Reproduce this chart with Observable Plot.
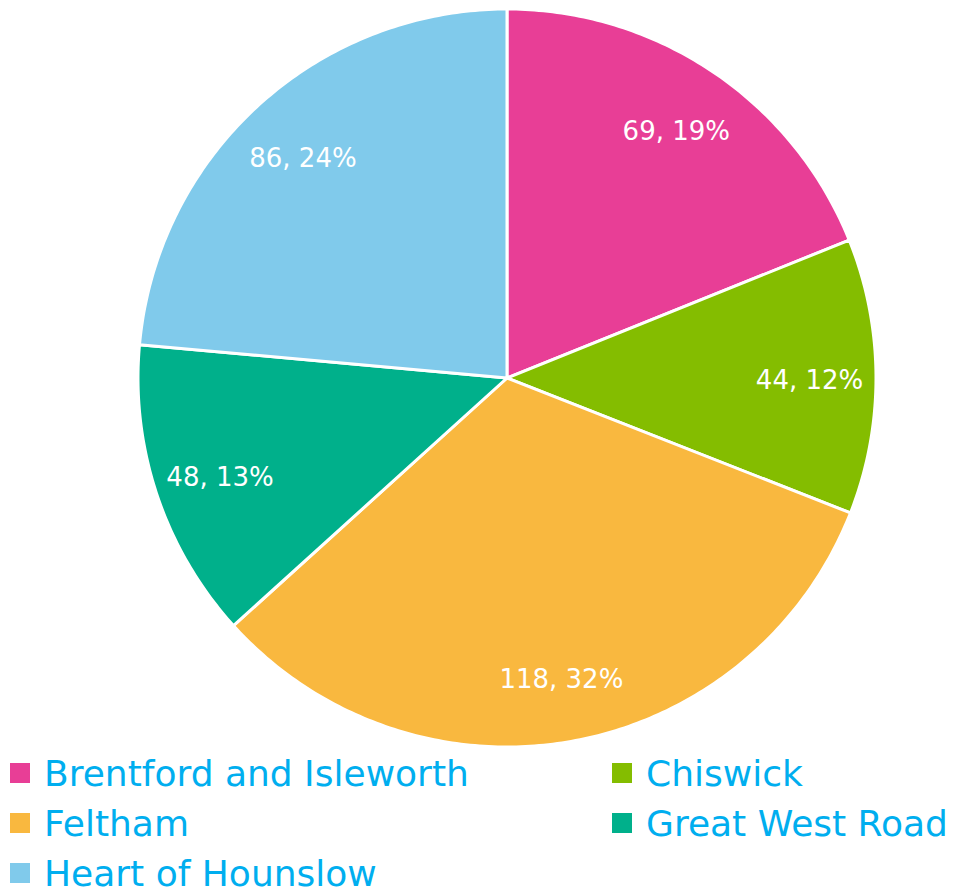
<!DOCTYPE html>
<html>
<head>
<meta charset="utf-8">
<script src="https://cdn.jsdelivr.net/npm/d3@7"></script>
<script src="https://cdn.jsdelivr.net/npm/@observablehq/plot@0.6"></script>
<style>
  html, body { margin: 0; padding: 0; background: #fff; }
  body { width: 962px; height: 888px; overflow: hidden; font-family: "DejaVu Sans", sans-serif; }
  #chart svg { display: block; }
  #legend { display: grid; grid-template-columns: 602px 360px; margin-top: -4px; }
  .item { display: flex; align-items: center; height: 50px; color: #00AEEF; font-size: 36px; font-weight: 400; font-family: "DejaVu Sans", sans-serif; white-space: nowrap; }
  .sw { width: 20px; height: 20px; margin-left: 10px; margin-right: 14px; flex: none; }
</style>
</head>
<body>
<div id="chart"></div>
<div id="legend"></div>
<script>
const categories = ["Brentford and Isleworth", "Chiswick", "Feltham", "Great West Road", "Heart of Hounslow"];
const values = [69, 44, 118, 48, 86];
const colors = ["#E83E96", "#84BD00", "#F9B83F", "#00B08B", "#80CAEB"];

const total = d3.sum(values);
const pie = d3.pie().sort(null).value(d => d.value);
const arcs = pie(categories.map((name, i) => ({name, value: values[i]})));

// slice outlines in unit coordinates (y up)
const pts = [];
for (const a of arcs) {
  const name = a.data.name;
  pts.push({name, x: 0, y: 0});
  const n = Math.max(8, Math.ceil((a.endAngle - a.startAngle) * 80));
  for (let k = 0; k <= n; k++) {
    const t = a.startAngle + (a.endAngle - a.startAngle) * k / n;
    pts.push({name, x: Math.sin(t), y: Math.cos(t)});
  }
  pts.push({name, x: 0, y: 0});
}
const labels = arcs.map(a => {
  const m = (a.startAngle + a.endAngle) / 2;
  const r = 0.82;
  return {x: r * Math.sin(m), y: r * Math.cos(m),
    text: `${a.data.value}, ${Math.round(a.data.value / total * 100)}%`};
});

const chart = Plot.plot({
  width: 962,
  height: 752,
  marginLeft: 137.5,
  marginRight: 86.5,
  marginTop: 8.5,
  marginBottom: 5.5,
  x: {domain: [-1, 1], axis: null},
  y: {domain: [-1, 1], axis: null},
  color: {domain: categories, range: colors},
  marks: [
    Plot.line(pts, {x: "x", y: "y", z: "name", fill: "name", stroke: "white", strokeWidth: 3, strokeLinejoin: "round", curve: "linear"}),
    Plot.text(labels, {x: "x", y: "y", text: "text", fill: "white", fontSize: 26, dy: 4, fontFamily: "DejaVu Sans, sans-serif", fontWeight: 400})
  ]
});
document.getElementById("chart").appendChild(chart);

const legend = document.getElementById("legend");
categories.forEach((c, i) => {
  const d = document.createElement("div");
  d.className = "item";
  d.innerHTML = `<span class="sw" style="background:${colors[i]}"></span><span>${c}</span>`;
  legend.appendChild(d);
});
</script>
</body>
</html>
